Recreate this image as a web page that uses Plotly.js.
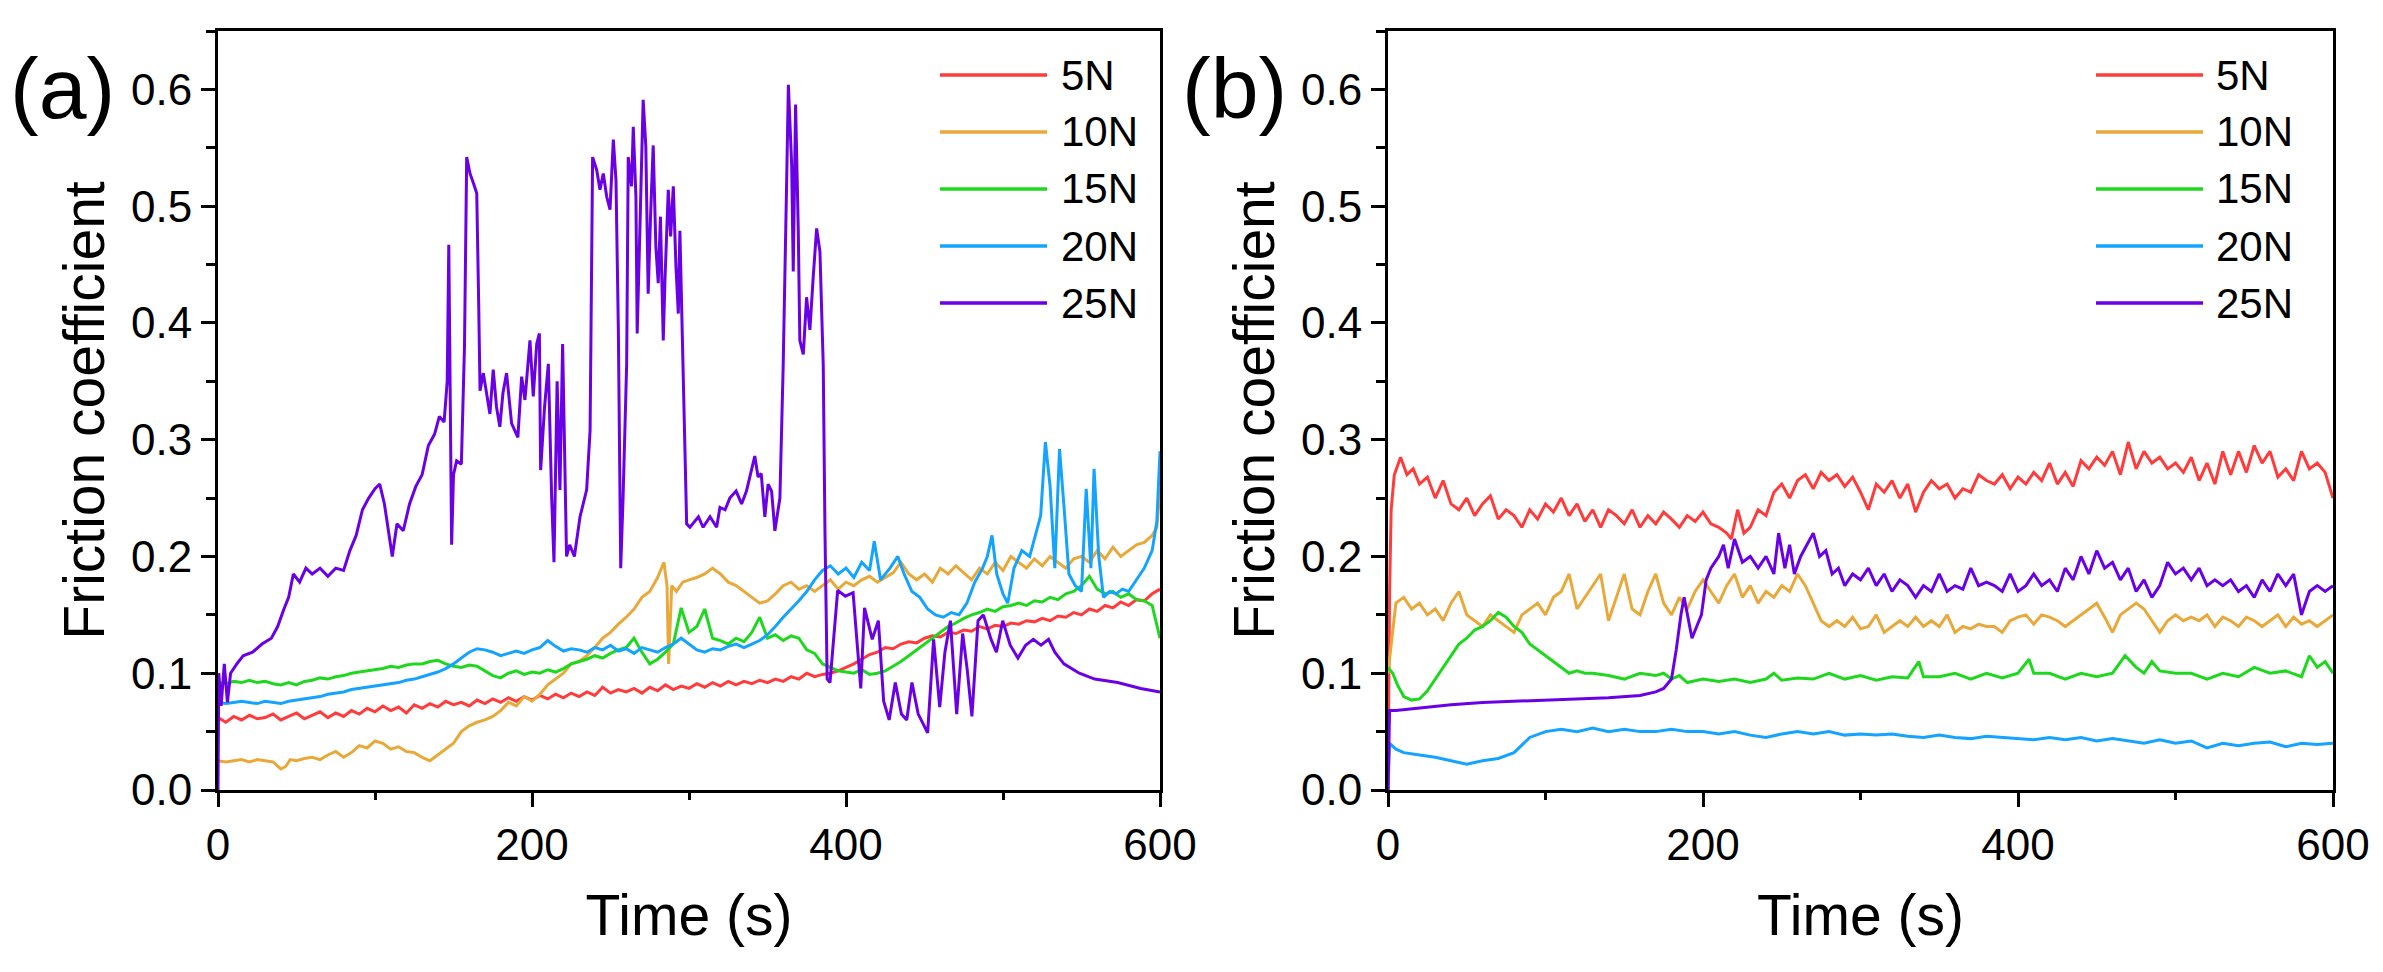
<!DOCTYPE html>
<html>
<head>
<meta charset="utf-8">
<script src="https://cdn.plot.ly/plotly-3.0.1.min.js"></script>
<style>
  html, body { margin: 0; padding: 0; background: #ffffff; }
  #plot { width: 2383px; height: 972px; }
</style>
</head>
<body>
<div id="plot"></div>
<script>

// Legend labels and line colours
var loads = ["5N", "10N", "15N", "20N", "25N"];
var colors = ["#ff3b3b", "#e9a93a", "#1ed81e", "#14a3ff", "#6a00e6"];

// Shared time grid, 5 s step
var tGrid5 = [0,5,10,15,20,25,30,35,40,45,50,55,60,65,70,75,80,85,90,95,100,105,110,115,120,125,130,135,140,145,150,155,160,165,170,175,180,185,190,195,200,205,210,215,220,225,230,235,240,245,250,255,260,265,270,275,280,285,290,295,300,305,310,315,320,325,330,335,340,345,350,355,360,365,370,375,380,385,390,395,400,405,410,415,420,425,430,435,440,445,450,455,460,465,470,475,480,485,490,495,500,505,510,515,520,525,530,535,540,545,550,555,560,565,570,575,580,585,590,595,600];

// ---- Panel (a) ----
var a5_mu = [0.062,0.058,0.063,0.06,0.064,0.061,0.062,0.065,0.06,0.063,0.066,0.061,0.064,0.067,0.062,0.066,0.063,0.068,0.065,0.07,0.067,0.072,0.068,0.071,0.066,0.073,0.07,0.074,0.071,0.076,0.073,0.075,0.072,0.077,0.074,0.078,0.075,0.079,0.076,0.08,0.077,0.081,0.078,0.082,0.079,0.083,0.08,0.084,0.081,0.088,0.083,0.086,0.084,0.087,0.083,0.088,0.085,0.09,0.086,0.089,0.087,0.091,0.088,0.092,0.089,0.093,0.09,0.093,0.091,0.094,0.092,0.095,0.093,0.097,0.095,0.1,0.097,0.099,0.1,0.102,0.105,0.108,0.112,0.116,0.118,0.122,0.121,0.125,0.127,0.126,0.13,0.132,0.131,0.135,0.134,0.137,0.136,0.14,0.138,0.141,0.14,0.143,0.142,0.145,0.144,0.147,0.145,0.149,0.148,0.152,0.15,0.155,0.153,0.158,0.156,0.161,0.158,0.163,0.162,0.168,0.172];

var a10_t = [0,5,10,15,20,25,30,35,40,43,46,50,55,60,65,70,75,80,85,90,95,100,105,110,115,120,125,130,135,140,145,150,155,160,165,170,175,180,185,190,195,200,205,210,215,220,225,230,235,240,245,250,255,260,265,270,275,280,284,286,287,289,292,296,300,305,310,315,320,325,330,335,340,345,350,355,360,365,370,375,380,385,390,395,400,405,410,415,420,425,430,435,440,445,450,455,460,465,470,475,480,485,490,495,500,505,510,515,520,525,530,535,540,545,550,555,560,565,570,575,580,585,590,595,598,600];
var a10_mu = [0.025,0.024,0.025,0.026,0.024,0.026,0.025,0.024,0.018,0.02,0.026,0.025,0.027,0.028,0.026,0.03,0.033,0.028,0.032,0.038,0.036,0.042,0.04,0.035,0.037,0.033,0.032,0.028,0.025,0.03,0.035,0.04,0.05,0.055,0.058,0.06,0.063,0.068,0.075,0.072,0.08,0.076,0.082,0.09,0.095,0.1,0.108,0.11,0.115,0.122,0.13,0.135,0.142,0.148,0.155,0.165,0.17,0.182,0.195,0.175,0.108,0.175,0.17,0.178,0.18,0.182,0.185,0.19,0.185,0.178,0.175,0.17,0.165,0.16,0.162,0.168,0.175,0.178,0.172,0.175,0.17,0.175,0.18,0.172,0.178,0.175,0.18,0.183,0.178,0.182,0.186,0.195,0.185,0.18,0.185,0.178,0.19,0.185,0.192,0.186,0.18,0.19,0.185,0.195,0.188,0.2,0.195,0.19,0.198,0.192,0.2,0.195,0.19,0.198,0.2,0.195,0.205,0.198,0.208,0.2,0.205,0.21,0.212,0.218,0.225,0.258];

var a15_mu = [0.092,0.091,0.093,0.092,0.094,0.092,0.093,0.091,0.09,0.092,0.09,0.093,0.094,0.096,0.095,0.097,0.098,0.1,0.101,0.102,0.103,0.104,0.106,0.105,0.107,0.108,0.108,0.11,0.111,0.108,0.106,0.105,0.107,0.106,0.102,0.098,0.096,0.1,0.102,0.099,0.101,0.1,0.103,0.101,0.104,0.108,0.11,0.112,0.115,0.113,0.117,0.12,0.122,0.13,0.118,0.108,0.112,0.118,0.125,0.156,0.135,0.14,0.155,0.13,0.128,0.125,0.13,0.127,0.135,0.148,0.13,0.133,0.128,0.132,0.13,0.12,0.117,0.108,0.105,0.102,0.101,0.1,0.103,0.099,0.1,0.102,0.106,0.11,0.115,0.12,0.125,0.13,0.135,0.14,0.143,0.147,0.15,0.152,0.155,0.153,0.157,0.158,0.16,0.158,0.162,0.161,0.165,0.163,0.168,0.17,0.175,0.183,0.172,0.168,0.17,0.165,0.168,0.163,0.162,0.158,0.13];

var a20_t = [0,5,10,15,20,25,30,35,40,45,50,55,60,65,70,75,80,85,90,95,100,105,110,115,120,125,130,135,140,145,150,155,160,165,170,175,180,185,190,195,200,205,210,215,220,225,230,235,240,245,250,255,260,265,270,275,280,285,290,295,300,305,310,315,320,325,330,335,340,345,350,355,360,365,370,375,380,385,390,395,400,405,410,415,418,422,428,433,437,442,447,452,457,462,467,472,477,482,487,490,493,496,500,503,507,512,517,521,524,527,530,533,536,539,542,546,550,553,556,558,561,564,568,572,576,580,585,590,595,598,600];
var a20_mu = [0.075,0.074,0.075,0.076,0.075,0.074,0.076,0.075,0.074,0.076,0.077,0.078,0.079,0.08,0.082,0.083,0.084,0.086,0.087,0.088,0.089,0.09,0.091,0.092,0.094,0.095,0.097,0.099,0.101,0.104,0.108,0.113,0.118,0.121,0.12,0.118,0.115,0.117,0.119,0.117,0.12,0.122,0.128,0.123,0.119,0.121,0.12,0.118,0.122,0.12,0.124,0.119,0.121,0.117,0.122,0.12,0.118,0.122,0.125,0.13,0.125,0.12,0.118,0.121,0.12,0.123,0.125,0.122,0.125,0.128,0.133,0.14,0.148,0.155,0.162,0.17,0.18,0.188,0.192,0.185,0.19,0.182,0.195,0.188,0.213,0.18,0.19,0.2,0.185,0.17,0.165,0.155,0.15,0.148,0.152,0.15,0.16,0.178,0.19,0.2,0.218,0.185,0.168,0.16,0.19,0.205,0.2,0.22,0.235,0.298,0.26,0.19,0.292,0.24,0.185,0.175,0.17,0.258,0.19,0.275,0.2,0.165,0.17,0.168,0.172,0.17,0.18,0.19,0.205,0.23,0.29];

var a25_t = [0,0.5,2,4,6,8,12,16,22,28,34,38,42,45,48,52,56,60,65,70,75,80,84,88,92,96,100,103,106,109,111,114,118,122,126,130,134,138,141,144,146,147,148.8,150,152,155,157,158.4,160.5,162.6,164.8,166,166.9,169,171,173.2,175.3,177.4,179.5,181.5,183.8,187,191,193.4,195.5,198.7,200.8,203,204.7,205.5,208,210.4,212.5,214,216,217.8,219.5,222,224,227,230.6,234.8,237,238.6,241.2,243.3,245.4,247.6,249.7,251.8,253.5,255,256.5,258,260.3,261.3,263.4,264.5,266.2,267,268.7,270.8,272.5,274,275.5,277.2,278.9,280.4,281.8,283.6,284.7,286.8,288.3,290,291.7,293.2,294.2,295.3,296.4,298.5,300.6,306,309,313.4,317.6,319.7,323,326,330,333.5,336.6,338.7,341.9,344,346,348.3,350.4,352.6,354.7,357.9,360,362.2,363.3,365.4,366.4,367.9,369.6,370.6,372.8,374.9,377,379.1,381.3,383.4,385.5,386.6,388,389.8,394.7,399.6,404.5,409.4,411.8,416.7,420.6,424,427.5,431.4,435.3,438.7,442,446,452,455.8,459.7,463,466.5,470.5,474.3,477.3,480.2,484.1,487.5,492.4,495.8,499.8,504.6,509.5,514.4,519.3,524.2,529,533,538.8,548.6,558.4,573,587.7,600];
var a25_mu = [0,0.1,0.072,0.108,0.075,0.1,0.108,0.115,0.118,0.125,0.13,0.14,0.155,0.165,0.185,0.178,0.19,0.185,0.19,0.183,0.19,0.188,0.205,0.218,0.24,0.25,0.258,0.262,0.245,0.22,0.2,0.228,0.222,0.245,0.26,0.27,0.295,0.305,0.32,0.315,0.35,0.467,0.21,0.27,0.282,0.279,0.38,0.542,0.528,0.52,0.511,0.42,0.342,0.357,0.34,0.322,0.36,0.328,0.311,0.34,0.357,0.314,0.302,0.354,0.334,0.385,0.337,0.382,0.391,0.274,0.328,0.365,0.251,0.195,0.35,0.257,0.382,0.2,0.21,0.2,0.234,0.257,0.308,0.542,0.531,0.514,0.528,0.508,0.497,0.557,0.522,0.394,0.19,0.25,0.365,0.542,0.517,0.568,0.508,0.391,0.479,0.591,0.551,0.425,0.491,0.552,0.465,0.434,0.491,0.385,0.437,0.514,0.474,0.517,0.448,0.408,0.479,0.408,0.337,0.228,0.225,0.234,0.225,0.234,0.225,0.242,0.24,0.25,0.256,0.245,0.256,0.268,0.286,0.268,0.271,0.234,0.262,0.256,0.222,0.25,0.364,0.521,0.604,0.535,0.444,0.587,0.479,0.385,0.373,0.422,0.394,0.439,0.481,0.461,0.364,0.222,0.095,0.092,0.171,0.166,0.169,0.087,0.156,0.129,0.145,0.076,0.06,0.092,0.065,0.06,0.092,0.065,0.049,0.129,0.071,0.118,0.145,0.065,0.134,0.102,0.063,0.145,0.15,0.129,0.118,0.145,0.124,0.113,0.124,0.129,0.124,0.129,0.118,0.108,0.1,0.095,0.092,0.087,0.084];

// ---- Panel (b) ----
var b5_t = [0,1,2,4,8,12,16,20,25,30,35,40,45,50,55,60,65,70,75,80,85,90,95,100,105,110,115,120,125,130,135,140,145,150,155,160,165,170,175,180,185,190,195,200,205,210,215,218,222,226,230,235,240,245,250,255,260,265,270,275,280,285,290,295,300,305,310,315,320,325,330,335,340,345,350,355,360,365,370,375,380,385,390,395,400,405,410,415,420,425,430,435,440,445,450,455,460,465,470,475,480,485,490,495,500,505,510,515,520,525,530,535,540,545,550,555,560,565,570,575,580,585,590,595,600];
var b5_mu = [0,0.17,0.24,0.27,0.285,0.27,0.275,0.262,0.268,0.25,0.265,0.245,0.24,0.25,0.235,0.245,0.252,0.232,0.24,0.235,0.225,0.24,0.232,0.245,0.238,0.25,0.235,0.245,0.23,0.24,0.225,0.24,0.235,0.228,0.24,0.225,0.235,0.228,0.238,0.232,0.225,0.235,0.23,0.238,0.228,0.225,0.22,0.215,0.24,0.22,0.225,0.24,0.235,0.255,0.262,0.25,0.265,0.27,0.258,0.272,0.265,0.27,0.26,0.268,0.255,0.24,0.262,0.255,0.265,0.25,0.262,0.238,0.255,0.265,0.258,0.262,0.25,0.258,0.255,0.27,0.265,0.262,0.27,0.258,0.268,0.262,0.272,0.265,0.28,0.262,0.272,0.26,0.282,0.275,0.285,0.278,0.29,0.27,0.298,0.275,0.29,0.28,0.285,0.275,0.28,0.272,0.285,0.265,0.28,0.262,0.29,0.27,0.29,0.272,0.295,0.28,0.29,0.268,0.275,0.265,0.29,0.275,0.28,0.272,0.25];

var b10_mu = [0.1,0.16,0.165,0.155,0.16,0.15,0.155,0.145,0.16,0.17,0.15,0.145,0.14,0.15,0.145,0.14,0.135,0.15,0.155,0.16,0.15,0.165,0.17,0.185,0.155,0.165,0.175,0.185,0.145,0.165,0.185,0.155,0.15,0.17,0.185,0.16,0.15,0.165,0.155,0.17,0.18,0.17,0.16,0.175,0.185,0.165,0.175,0.16,0.17,0.165,0.175,0.17,0.185,0.175,0.16,0.145,0.14,0.145,0.14,0.148,0.138,0.14,0.15,0.135,0.14,0.145,0.14,0.148,0.14,0.145,0.14,0.15,0.135,0.14,0.138,0.142,0.14,0.14,0.135,0.145,0.148,0.15,0.142,0.15,0.148,0.145,0.14,0.145,0.15,0.155,0.16,0.148,0.135,0.15,0.155,0.16,0.155,0.145,0.135,0.145,0.15,0.145,0.148,0.145,0.15,0.14,0.148,0.145,0.14,0.148,0.145,0.14,0.145,0.15,0.14,0.148,0.142,0.145,0.14,0.145,0.15];

var b15_t = [0,3,6,10,15,20,25,30,35,40,45,50,55,60,65,70,75,80,85,90,95,100,105,110,115,120,125,130,140,150,160,170,175,180,185,190,200,210,220,230,240,245,250,260,270,280,290,300,310,320,330,337,340,350,360,370,380,390,400,407,410,420,430,440,450,460,468,475,480,485,490,500,510,520,530,540,550,560,570,580,585,590,595,600];
var b15_mu = [0.105,0.1,0.09,0.08,0.077,0.078,0.085,0.095,0.105,0.115,0.125,0.13,0.137,0.14,0.145,0.152,0.148,0.14,0.135,0.125,0.12,0.115,0.11,0.105,0.1,0.102,0.1,0.1,0.098,0.095,0.1,0.098,0.1,0.095,0.098,0.092,0.095,0.093,0.095,0.092,0.095,0.1,0.094,0.096,0.095,0.1,0.095,0.098,0.094,0.097,0.096,0.11,0.097,0.097,0.1,0.095,0.1,0.096,0.1,0.112,0.1,0.1,0.095,0.1,0.097,0.1,0.115,0.105,0.1,0.11,0.102,0.1,0.1,0.095,0.1,0.097,0.105,0.1,0.102,0.097,0.115,0.105,0.11,0.1];

var b20_t = [0,1,5,10,20,30,40,50,60,70,80,90,100,110,120,130,140,150,160,170,180,190,200,210,220,230,240,250,260,270,280,290,300,310,320,330,340,350,360,370,380,390,400,410,420,430,440,450,460,470,480,490,500,510,520,530,540,550,560,570,580,590,600];
var b20_mu = [0,0.04,0.035,0.032,0.03,0.028,0.025,0.022,0.025,0.027,0.032,0.045,0.05,0.052,0.05,0.053,0.05,0.052,0.05,0.05,0.052,0.05,0.05,0.048,0.05,0.047,0.045,0.048,0.05,0.048,0.05,0.047,0.048,0.047,0.048,0.046,0.045,0.047,0.045,0.044,0.046,0.045,0.044,0.043,0.045,0.043,0.045,0.042,0.044,0.042,0.04,0.043,0.04,0.042,0.036,0.04,0.038,0.04,0.041,0.037,0.04,0.039,0.04];

var b25_t = [0,1,5,20,40,60,80,100,120,140,160,170,175,180,183,186,188,191,193,196,199,202,205,210,213,216,220,225,230,235,240,245,248,252,255,258,262,266,270,274,278,282,286,290,295,300,305,310,315,320,325,330,335,340,345,350,355,360,365,370,375,380,385,390,395,400,405,410,415,420,425,430,435,440,445,450,455,460,465,470,475,480,485,490,495,500,505,510,515,520,525,530,535,540,545,550,555,560,565,570,575,580,585,590,595,600];
var b25_mu = [0,0.068,0.068,0.07,0.073,0.075,0.076,0.077,0.078,0.079,0.081,0.084,0.087,0.095,0.12,0.15,0.165,0.145,0.13,0.14,0.15,0.18,0.19,0.2,0.21,0.19,0.215,0.195,0.2,0.19,0.2,0.185,0.22,0.19,0.21,0.185,0.2,0.21,0.22,0.2,0.205,0.185,0.19,0.175,0.185,0.18,0.19,0.175,0.185,0.17,0.18,0.175,0.165,0.175,0.17,0.185,0.17,0.175,0.172,0.19,0.175,0.178,0.175,0.17,0.185,0.17,0.175,0.185,0.175,0.18,0.17,0.19,0.18,0.2,0.185,0.205,0.19,0.195,0.18,0.19,0.17,0.18,0.165,0.175,0.195,0.185,0.19,0.18,0.19,0.175,0.18,0.175,0.18,0.17,0.175,0.165,0.18,0.17,0.185,0.175,0.185,0.15,0.17,0.175,0.17,0.175];

var panelA = [[tGrid5, a5_mu], [a10_t, a10_mu], [tGrid5, a15_mu], [a20_t, a20_mu], [a25_t, a25_mu]];
var panelB = [[b5_t, b5_mu], [tGrid5, b10_mu], [b15_t, b15_mu], [b20_t, b20_mu], [b25_t, b25_mu]];

var fontFamily = "Arial, 'Liberation Sans', Helvetica, sans-serif";
var W = 2383, H = 972;

// Pixel helpers for paper coordinates
function px(x) { return x / W; }
function py(y) { return 1 - y / H; }

var data = [];
panelA.forEach(function(s, i) {
  data.push({
    x: s[0], y: s[1], xaxis: "x", yaxis: "y",
    type: "scatter", mode: "lines", name: loads[i], showlegend: false,
    line: {color: colors[i], width: 3}
  });
});
panelB.forEach(function(s, i) {
  data.push({
    x: s[0], y: s[1], xaxis: "x2", yaxis: "y2",
    type: "scatter", mode: "lines", name: loads[i], showlegend: false,
    line: {color: colors[i], width: 3}
  });
});

function xAxis(domain, anchor) {
  return {
    domain: domain, anchor: anchor, range: [0, 600],
    showgrid: false, zeroline: false,
    showline: true, mirror: true, linecolor: "#000", linewidth: 3,
    ticks: "outside", ticklen: 14, tickwidth: 3, tickcolor: "#000",
    tickmode: "linear", tick0: 0, dtick: 200,
    minor: {ticks: "outside", ticklen: 7, tickwidth: 3, tickcolor: "#000", dtick: 100, showgrid: false},
    tickfont: {family: fontFamily, size: 44, color: "#000"},
    title: {text: "Time (s)", standoff: 28, font: {family: fontFamily, size: 57, color: "#000"}}
  };
}

function yAxis(domain, anchor) {
  return {
    domain: domain, anchor: anchor, range: [0, 0.65],
    showgrid: false, zeroline: false,
    showline: true, mirror: true, linecolor: "#000", linewidth: 3,
    ticks: "outside", ticklen: 14, tickwidth: 3, tickcolor: "#000",
    tickmode: "linear", tick0: 0, dtick: 0.1, tickformat: ".1f",
    minor: {ticks: "outside", ticklen: 9, tickwidth: 3, tickcolor: "#000", dtick: 0.05, showgrid: false},
    tickfont: {family: fontFamily, size: 44, color: "#000"},
    title: {text: "Friction coefficient", standoff: 9, font: {family: fontFamily, size: 57, color: "#000"}}
  };
}

var yDom = [py(790), py(31)];

// Hand-drawn legends (long line samples as in the original)
var shapes = [];
var annotations = [];
var legendRows = [75, 132, 189, 246, 303];
[[940, 1047, 1059], [2096, 2203, 2214]].forEach(function(pos) {
  loads.forEach(function(lbl, i) {
    shapes.push({
      type: "line", xref: "paper", yref: "paper",
      x0: px(pos[0]), x1: px(pos[1]), y0: py(legendRows[i]), y1: py(legendRows[i]),
      line: {color: colors[i], width: 3.5}
    });
    annotations.push({
      xref: "paper", yref: "paper", x: px(pos[2]), y: py(legendRows[i]),
      xanchor: "left", yanchor: "middle", showarrow: false,
      text: lbl, font: {family: fontFamily, size: 42, color: "#000"}
    });
  });
});

// Panel letters
annotations.push({
  xref: "paper", yref: "paper", x: px(8), y: py(88), xanchor: "left", yanchor: "middle",
  showarrow: false, text: "(a)", font: {family: fontFamily, size: 86, color: "#000"}
});
annotations.push({
  xref: "paper", yref: "paper", x: px(1180), y: py(88), xanchor: "left", yanchor: "middle",
  showarrow: false, text: "(b)", font: {family: fontFamily, size: 86, color: "#000"}
});

var layout = {
  width: W, height: H,
  margin: {l: 0, r: 0, t: 0, b: 0},
  paper_bgcolor: "#ffffff", plot_bgcolor: "#ffffff",
  showlegend: false,
  xaxis: xAxis([px(218), px(1160)], "y"),
  yaxis: yAxis(yDom, "x"),
  xaxis2: xAxis([px(1388), px(2333)], "y2"),
  yaxis2: yAxis(yDom, "x2"),
  shapes: shapes,
  annotations: annotations
};

Plotly.newPlot("plot", data, layout, {displayModeBar: false, staticPlot: true});
</script>
</body>
</html>
